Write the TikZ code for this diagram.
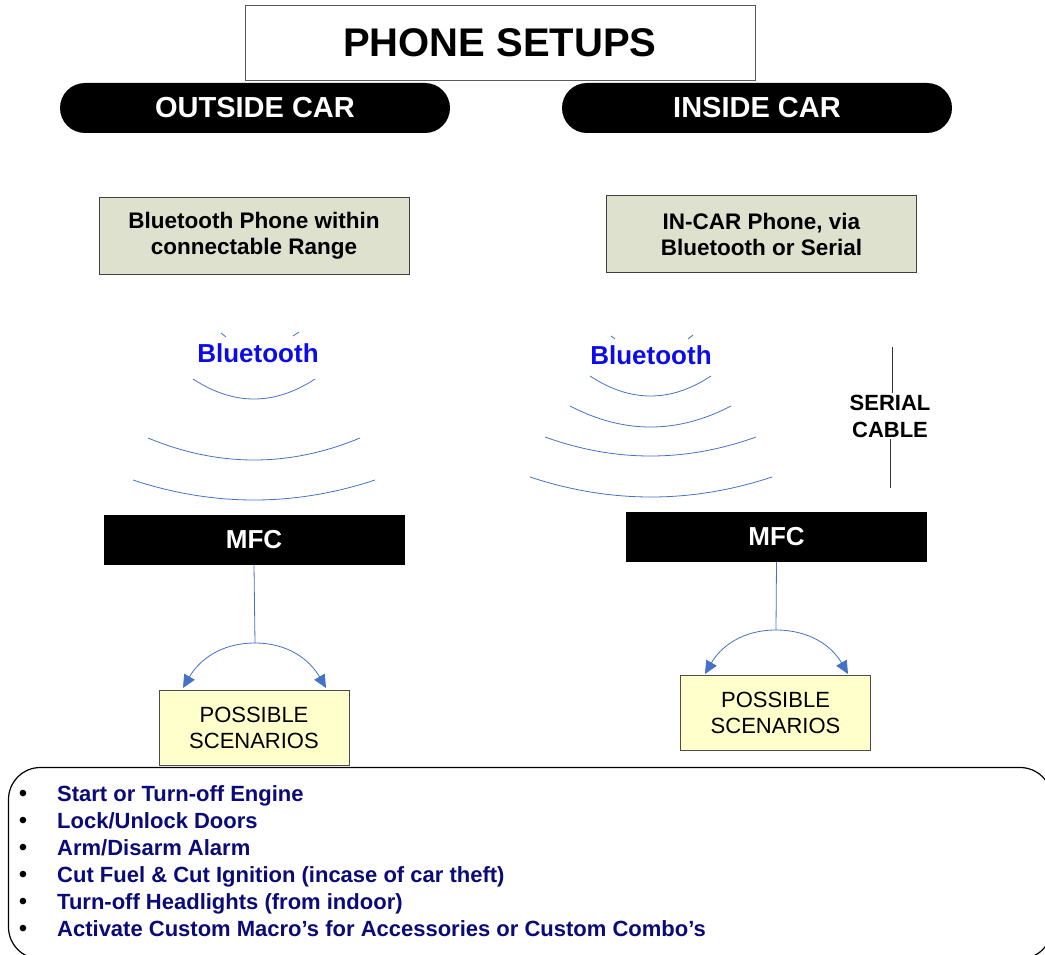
\documentclass[tikz,border=0pt]{standalone}
\usepackage{fontspec}
\setmainfont{Liberation Sans}
\usepackage{xcolor}
\usetikzlibrary{positioning,arrows.meta}

\definecolor{boxgrey}{RGB}{222,225,206}
\definecolor{paleyellow}{RGB}{255,255,204}
\definecolor{linkblue}{RGB}{68,114,196}
\definecolor{btblue}{RGB}{12,12,235}
\definecolor{navytext}{RGB}{10,10,120}

\begin{document}
\begin{tikzpicture}[
						x=1pt, y=-1pt,
						titlebox/.style={
							draw=black!65,        % khung tieu de
							minimum width=510pt,
							minimum height=75pt,
							font=\fontsize{40}{48}\selectfont\bfseries
						},
						pill/.style={             % nhan den bo tron
							fill=black, text=white,
							rounded corners=25pt,
							minimum width=390pt,
							minimum height=50pt,
							font=\fontsize{29}{34}\selectfont\bfseries
						},
						phonebox/.style={
							draw=black!75, fill=boxgrey,
							minimum width=310pt,
							minimum height=77pt,
							align=center,
							font=\fontsize{22.5}{26}\selectfont\bfseries
						},
						mfc/.style={
							fill=black, text=white,
							minimum width=301pt,
							minimum height=50pt,
							font=\fontsize{26}{30}\selectfont\bfseries
						},
						scenario/.style={
							draw=black!70, fill=paleyellow,
							minimum width=190pt,
							minimum height=75pt,
							align=center,
							font=\fontsize{22}{26}\selectfont
						},
						btlabel/.style={
							text=btblue,
							font=\fontsize{26}{30}\selectfont\bfseries
						},
						wave/.style={linkblue, line width=0.8pt},
						link/.style={linkblue, line width=0.8pt},
						arrow_link/.style={
							link, -{Triangle[length=13pt, width=12pt]}
						},
						bullet/.style={anchor=base, inner sep=0pt, font=\fontsize{24}{26}\selectfont},
						listitem/.style={
							anchor=base west, text=navytext, inner sep=0pt,
							font=\fontsize{22}{26}\selectfont\bfseries
						}
						]
						\useasboundingbox (0,0) rectangle (1045,955);
						\clip (0,0) rectangle (1045,955);
						
						% --- TIEU DE ---
						\node[titlebox] (title) at (500,42.5) {PHONE SETUPS};
						\node[pill] (outside) at (255,108) {OUTSIDE CAR};
						\node[pill] (inside) at (757,108) {INSIDE CAR};
						
						% --- DIEN THOAI ---
						\node[phonebox] (phoneL) at (254,235.5) {Bluetooth Phone within\\connectable Range};
						\node[phonebox] (phoneR) at (761.5,234) {IN-CAR Phone, via\\Bluetooth or Serial};
						
						% --- SONG BLUETOOTH (trai) ---
						\node[btlabel] (btL) at (258,353) {Bluetooth};
						\draw[wave] (221,333) -- (226,337);
						\draw[wave] (293,336) -- (299,332);
						\foreach \a/\b/\y/\m in {193/315/379/399, 148/360/438/460, 133/375/480/500} {
							\draw[wave] (\a,\y) .. controls ({\a+(\b-\a)/3},{\y+4*(\m-\y)/3})
								and ({\b-(\b-\a)/3},{\y+4*(\m-\y)/3}) .. (\b,\y);
						}
						
						% --- SONG BLUETOOTH (phai) ---
						\node[btlabel] (btR) at (651,355) {Bluetooth};
						\draw[wave] (611,336) -- (615,339);
						\draw[wave] (688,339) -- (693,335);
						\foreach \a/\b/\y/\m in {590/711/376/396, 570/731/406/427, 545/756/437/456, 530/772/477/497} {
							\draw[wave] (\a,\y) .. controls ({\a+(\b-\a)/3},{\y+4*(\m-\y)/3})
								and ({\b-(\b-\a)/3},{\y+4*(\m-\y)/3}) .. (\b,\y);
						}
						
						% --- CAP NOI TIEP ---
						\node[align=center, inner sep=2pt, font=\fontsize{22}{27}\selectfont\bfseries] (serial) at (890,416) {SERIAL\\CABLE};
						\coordinate (cableTop) at (892,347);
						\coordinate (cableBot) at (890,488);
						\draw[black!80, line width=0.8pt] (cableTop) -- (serial.north -| cableTop);
						\draw[black!80, line width=0.8pt] (serial.south -| cableBot) -- (cableBot);
						
						% --- MFC ---
						\node[mfc] (mfcL) at (254,540) {MFC};
						\node[mfc] (mfcR) at (776.5,537) {MFC};
						
						% --- KICH BAN ---
						\node[scenario] (scL) at (254,727.5) {POSSIBLE\\SCENARIOS};
						\node[scenario] (scR) at (775.5,713) {POSSIBLE\\SCENARIOS};
						
						% Tach nhanh trai
						\coordinate (splitL) at (255,643);
						\coordinate (tipL1) at (183,688);
						\coordinate (tipL2) at (326,688);
						\draw[link] (mfcL.south) -- (splitL);
						\draw[arrow_link] (splitL) to[out=180, in=60] (tipL1);
						\draw[arrow_link] (splitL) to[out=0, in=120] (tipL2);
						
						% Tach nhanh phai
						\coordinate (splitR) at (776,630);
						\coordinate (tipR1) at (705,674);
						\coordinate (tipR2) at (848,674);
						\draw[link] (mfcR.south) -- (splitR);
						\draw[arrow_link] (splitR) to[out=180, in=60] (tipR1);
						\draw[arrow_link] (splitR) to[out=0, in=120] (tipR2);
						
						% --- DANH SACH CHUC NANG ---
						\draw[black, line width=1.2pt, rounded corners=32pt] (8.5,767.5) rectangle (1052,959);
						\foreach \txt [count=\i] in {Start or Turn-off Engine, Lock/Unlock Doors, Arm/Disarm Alarm,
							Cut Fuel \& Cut Ignition (incase of car theft), Turn-off Headlights (from indoor),
							Activate Custom Macro’s for Accessories or Custom Combo’s} {
							\node[bullet] (dot\i) at (23,{774+27*\i}) {•};
							\node[listitem] (item\i) at (57,{774+27*\i}) {\txt};
						}
						
					\end{tikzpicture}
\end{document}
